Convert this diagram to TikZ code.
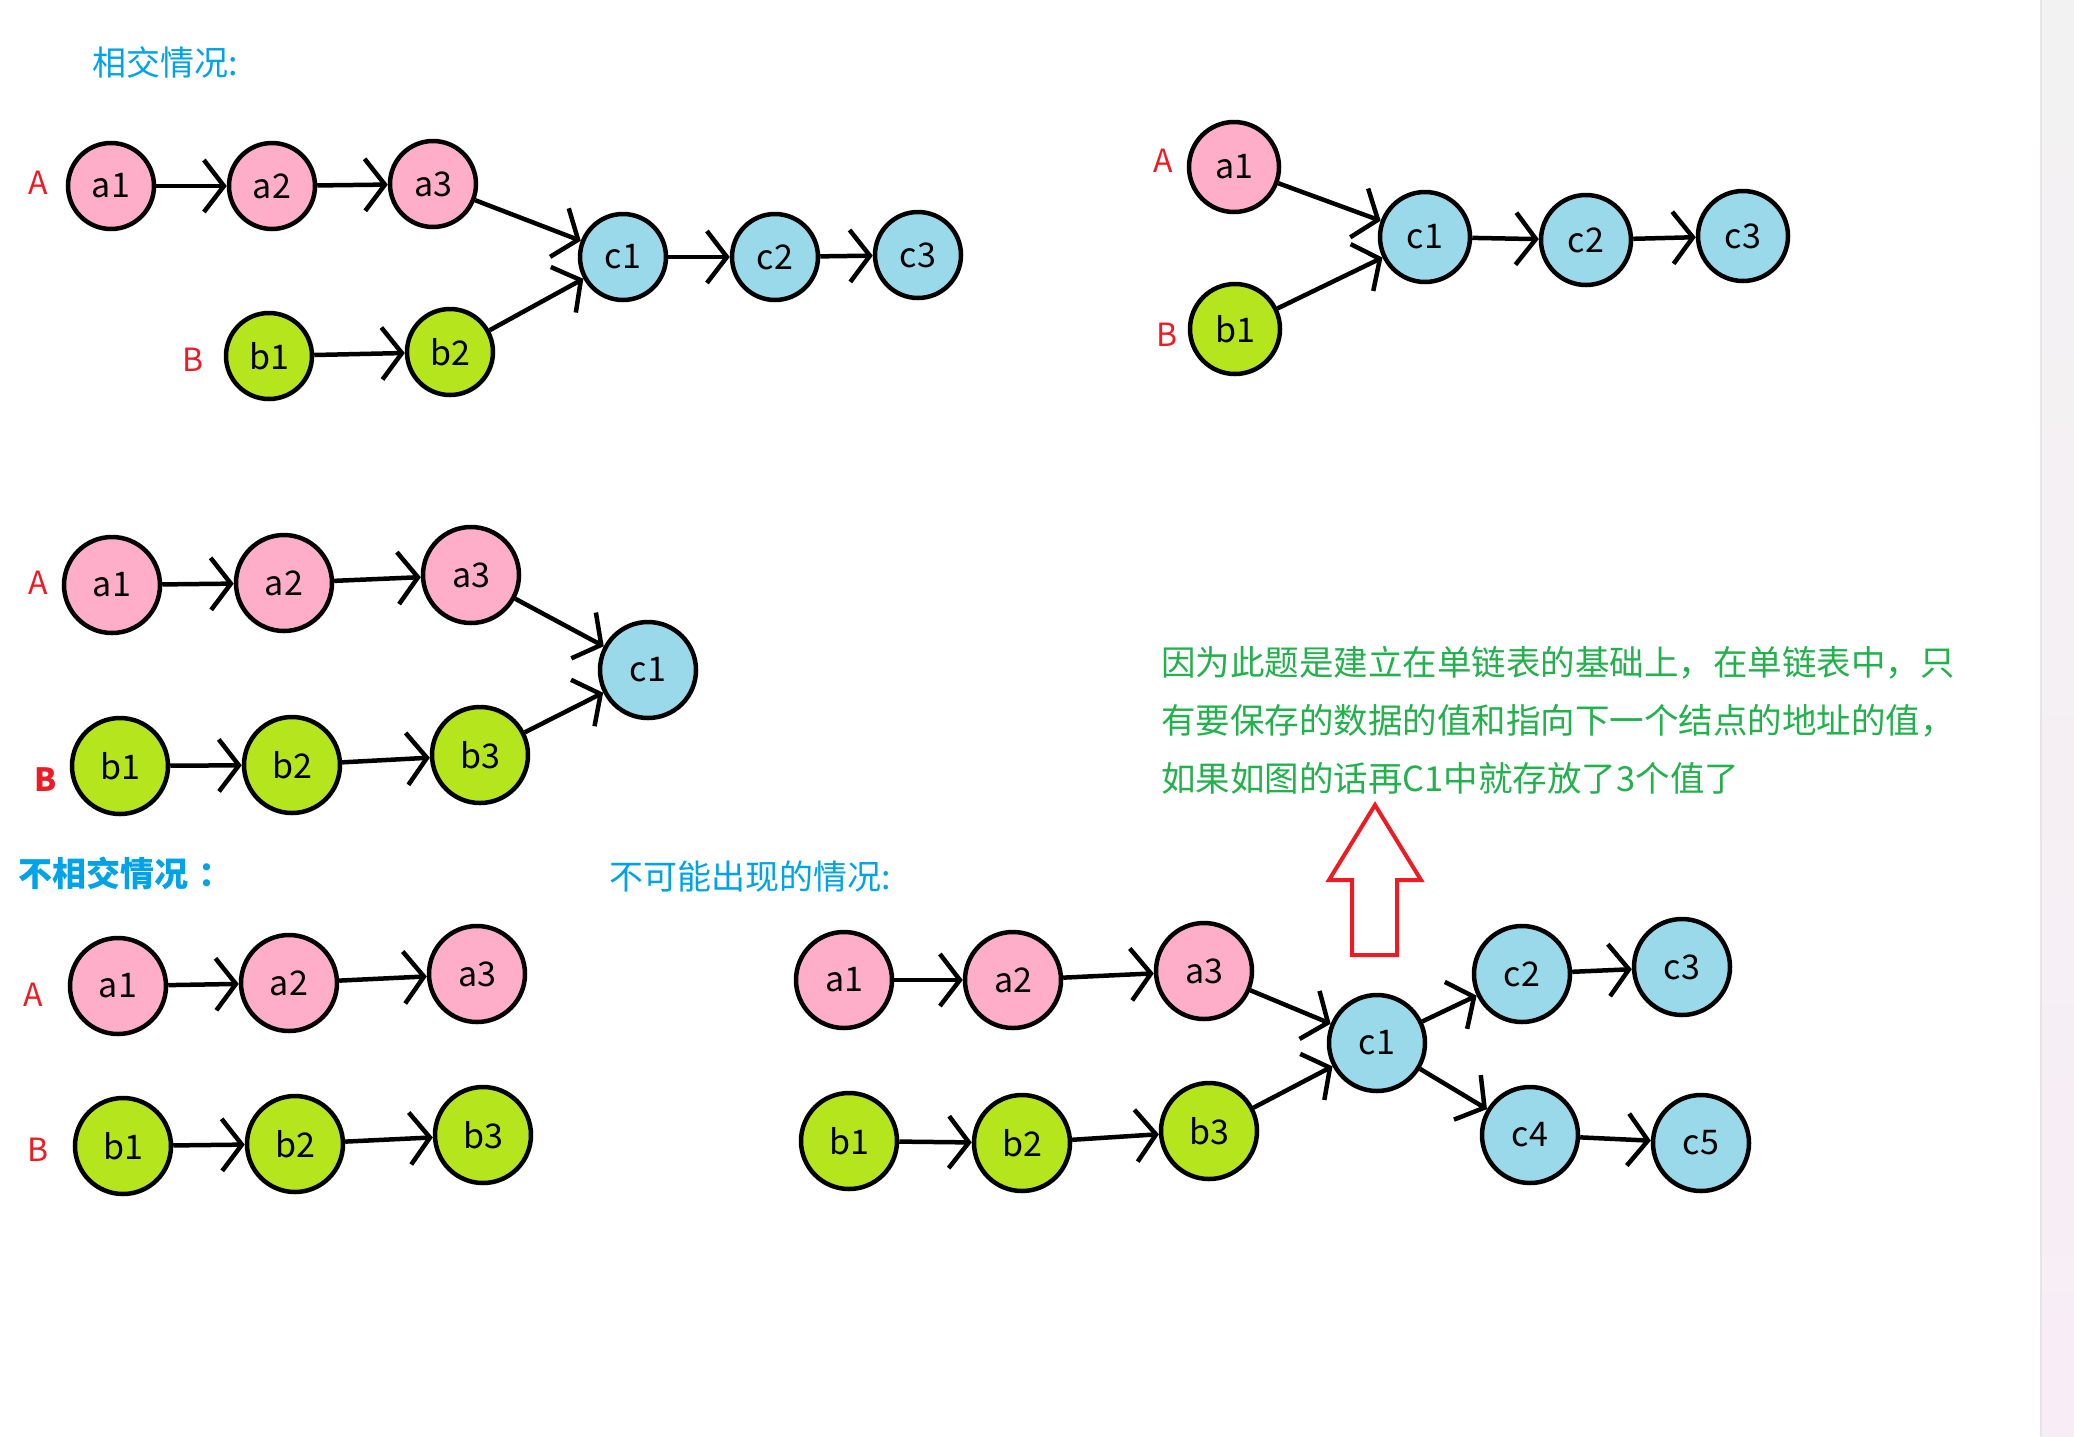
\documentclass[tikz,border=0pt]{standalone}
\usepackage{fontspec}
\setmainfont{Noto Sans CJK SC}
\usetikzlibrary{arrows.meta}
\definecolor{pinkfill}{HTML}{FFAEC9}
\definecolor{limefill}{HTML}{B5E61D}
\definecolor{bluefill}{HTML}{99D9EA}
\definecolor{labred}{HTML}{ED1C24}
\definecolor{headblue}{HTML}{00A2E8}
\definecolor{notegreen}{HTML}{22B14C}
\definecolor{stripgray}{HTML}{F2F2F2}
\definecolor{strippink}{HTML}{F8EDF6}
\tikzset{
  ball/.style={circle,draw,line width=4.5pt,minimum size=96pt,inner sep=0pt,font=\fontsize{34}{34}\selectfont},
  small/.style={minimum size=86pt},
  mid/.style={minimum size=90pt},
  apt/.style={ball,fill=pinkfill},
  bpt/.style={ball,fill=limefill},
  cpt/.style={ball,fill=bluefill},
  listname/.style={text=labred,inner sep=0pt,font=\fontsize{32}{32}\selectfont},
  heading/.style={anchor=west,inner sep=0pt,text=headblue,font=\fontsize{34}{34}\selectfont},
  line/.style={-{Straight Barb[length=20pt,width=52pt]},line width=4.5pt}
}

\begin{document}
\begin{tikzpicture}[x=1pt,y=-1pt]
\useasboundingbox (0,0) rectangle (2074,1436);
\fill[white] (0,0) rectangle (2074,1436);
\fill[top color=stripgray,bottom color=strippink] (2040,0) rectangle (2074,1436);
\draw[color=black!10,line width=2pt] (2041,0) -- (2041,1436);

\node[heading] (hcross) at (92,62) {相交情况:};
\node[heading,font=\fontsize{34}{34}\selectfont\bfseries] (hnone) at (18,873) {不相交情况\hspace{0.3em}：};
\node[heading] (hwrong) at (609,877) {不可能出现的情况:};

\node[listname] (pA) at (38,183) {A};
\node[apt,small] (pa1) at (111,186) {a1};
\node[apt,small] (pa2) at (272,186) {a2};
\node[apt,small] (pa3) at (433,184) {a3};
\node[cpt,small] (pc1) at (623,257) {c1};
\node[cpt,small] (pc2) at (775,257) {c2};
\node[cpt,small] (pc3) at (918,255) {c3};
\node[listname] (pB) at (193,360) {B};
\node[bpt,small] (pb1) at (269,356) {b1};
\node[bpt,small] (pb2) at (450,352) {b2};
\draw[line] (pa1) -- (pa2);
\draw[line] (pa2) -- (pa3);
\draw[line] (pa3) -- (pc1);
\draw[line] (pb1) -- (pb2);
\draw[line] (pb2) -- (pc1);
\draw[line] (pc1) -- (pc2);
\draw[line] (pc2) -- (pc3);

\node[listname] (qA) at (1163,161) {A};
\node[apt,mid] (qa1) at (1234,167) {a1};
\node[cpt,mid] (qc1) at (1425,237) {c1};
\node[cpt,mid] (qc2) at (1586,240) {c2};
\node[cpt,mid] (qc3) at (1743,236) {c3};
\node[listname] (qB) at (1167,335) {B};
\node[bpt,mid] (qb1) at (1235,329) {b1};
\draw[line] (qa1) -- (qc1);
\draw[line] (qb1) -- (qc1);
\draw[line] (qc1) -- (qc2);
\draw[line] (qc2) -- (qc3);

\node[listname] (rA) at (38,583) {A};
\node[apt] (ra1) at (112,585) {a1};
\node[apt] (ra2) at (284,583) {a2};
\node[apt] (ra3) at (471,575) {a3};
\node[cpt] (rc1) at (648,670) {c1};
\node[listname,font=\fontsize{32}{32}\selectfont\bfseries] (rB) at (46,780) {B};
\node[bpt] (rb1) at (120,766) {b1};
\node[bpt] (rb2) at (292,765) {b2};
\node[bpt] (rb3) at (480,755) {b3};
\draw[line] (ra1) -- (ra2);
\draw[line] (ra2) -- (ra3);
\draw[line] (ra3) -- (rc1);
\draw[line] (rb1) -- (rb2);
\draw[line] (rb2) -- (rb3);
\draw[line] (rb3) -- (rc1);

\node[listname] (sA) at (33,995) {A};
\node[apt] (sa1) at (118,986) {a1};
\node[apt] (sa2) at (289,983) {a2};
\node[apt] (sa3) at (477,974) {a3};
\node[listname] (sB) at (38,1150) {B};
\node[bpt] (sb1) at (123,1146) {b1};
\node[bpt] (sb2) at (295,1144) {b2};
\node[bpt] (sb3) at (483,1135) {b3};
\draw[line] (sa1) -- (sa2);
\draw[line] (sa2) -- (sa3);
\draw[line] (sb1) -- (sb2);
\draw[line] (sb2) -- (sb3);

\node[apt] (ta1) at (844,980) {a1};
\node[apt] (ta2) at (1013,980) {a2};
\node[apt] (ta3) at (1204,971) {a3};
\node[cpt] (tc1) at (1377,1043) {c1};
\node[cpt] (tc2) at (1522,974) {c2};
\node[cpt] (tc3) at (1682,967) {c3};
\node[bpt] (tb1) at (849,1141) {b1};
\node[bpt] (tb2) at (1022,1143) {b2};
\node[bpt] (tb3) at (1209,1131) {b3};
\node[cpt] (tc4) at (1530,1135) {c4};
\node[cpt] (tc5) at (1701,1143) {c5};
\draw[line] (ta1) -- (ta2);
\draw[line] (ta2) -- (ta3);
\draw[line] (ta3) -- (tc1);
\draw[line] (tb1) -- (tb2);
\draw[line] (tb2) -- (tb3);
\draw[line] (tb3) -- (tc1);
\draw[line] (tc1) -- (tc2);
\draw[line] (tc2) -- (tc3);
\draw[line] (tc1) -- (tc4);
\draw[line] (tc4) -- (tc5);

\draw[labred,line width=4pt] (1375,805) -- (1421,880) -- (1397,880) -- (1397,955) -- (1352,955) -- (1352,880) -- (1329,880) -- cycle;
\node[anchor=west,inner sep=0pt,align=left,text=notegreen,font=\fontsize{34.5}{58}\selectfont] (note) at (1161,720)
  {因为此题是建立在单链表的基础上，在单链表中，只\\有要保存的数据的值和指向下一个结点的地址的值，\\如果如图的话再C1中就存放了3个值了};
\end{tikzpicture}
\end{document}
